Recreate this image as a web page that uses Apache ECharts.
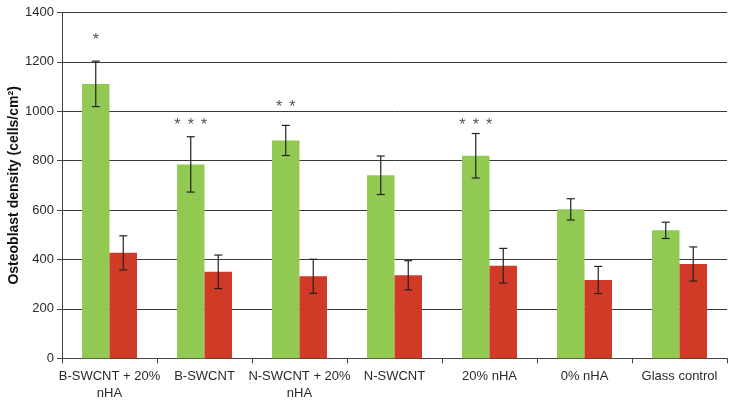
<!DOCTYPE html>
<html>
<head>
<meta charset="utf-8">
<script src="https://cdn.jsdelivr.net/npm/echarts@6/dist/echarts.min.js"></script>
<style>html,body{margin:0;padding:0;background:#fff;}#c{width:735px;height:406px;}</style>
</head>
<body>
<div id="c"></div>
<script>
var categories = ['B-SWCNT + 20%\nnHA', 'B-SWCNT', 'N-SWCNT + 20%\nnHA', 'N-SWCNT', '20% nHA', '0% nHA', 'Glass control'];
var greenValues = [1111, 785, 882, 741, 820, 603, 518];
var greenErrors = [92, 112, 61, 78, 90, 43, 33];
var redValues = [427, 350, 332, 336, 375, 317, 382];
var redErrors = [69, 68, 69, 59, 70, 55, 69];
var starCounts = [1, 3, 2, 0, 3, 0, 0];
var starLevels = [1301, 960, 1033, 0, 960, 0, 0];
var yTicks = [0, 200, 400, 600, 800, 1000, 1200, 1400];

var BAR_W = 27.5;

function errData(vals, errs) {
  return vals.map(function (v, i) { return [i, v, errs[i]]; });
}

function errRender(offset) {
  return function (params, api) {
    var i = api.value(0), v = api.value(1), e = api.value(2);
    var top = api.coord([i, v + e]);
    var bot = api.coord([i, v - e]);
    var x = top[0] + offset;
    var cap = 4;
    var st = { stroke: '#222', lineWidth: 1.2 };
    return {
      type: 'group',
      children: [
        { type: 'line', shape: { x1: x, y1: top[1], x2: x, y2: bot[1] }, style: st },
        { type: 'line', shape: { x1: x - cap, y1: top[1], x2: x + cap, y2: top[1] }, style: st },
        { type: 'line', shape: { x1: x - cap, y1: bot[1], x2: x + cap, y2: bot[1] }, style: st }
      ]
    };
  };
}

var starData = starCounts.map(function (n, i) { return [i, starLevels[i], n]; }).filter(function (d) { return d[2] > 0; });

var chart = echarts.init(document.getElementById('c'));
chart.setOption({
  animation: false,
  grid: { left: 62, right: 8, top: 12.5, bottom: 47.7, containLabel: false, outerBoundsMode: 'none' },
  xAxis: {
    type: 'category',
    data: categories,
    axisLine: { lineStyle: { color: '#444', width: 1 } },
    axisTick: { show: true, length: 5, alignWithLabel: false, lineStyle: { color: '#444' } },
    axisLabel: { color: '#2a2a2a', fontSize: 13, fontFamily: 'Liberation Sans, Arial, sans-serif', margin: 10, lineHeight: 17, interval: 0 }
  },
  yAxis: {
    type: 'value',
    min: 0, max: 1400, interval: 200,
    name: 'Osteoblast density (cells/cm²)',
    nameLocation: 'middle',
    nameGap: 41,
    nameRotate: 90,
    nameMoveOverlap: false,
    nameTextStyle: { color: '#111', fontSize: 14, fontWeight: 'bold', fontFamily: 'Liberation Sans, Arial, sans-serif' },
    axisLine: { show: true, lineStyle: { color: '#444', width: 1 } },
    axisTick: { show: true, length: 5, lineStyle: { color: '#444' } },
    axisLabel: { color: '#2a2a2a', fontSize: 13, fontFamily: 'Liberation Sans, Arial, sans-serif', margin: 8, formatter: function (v) { return String(v); } },
    splitLine: { lineStyle: { color: '#3a3a3a', width: 1 } }
  },
  series: [
    { type: 'bar', data: greenValues, barWidth: BAR_W, barGap: '0%', itemStyle: { color: '#92C953' } },
    { type: 'bar', data: redValues, barWidth: BAR_W, barGap: '0%', itemStyle: { color: '#D03A27' } },
    { type: 'custom', data: errData(greenValues, greenErrors), renderItem: errRender(-BAR_W / 2), z: 10 },
    { type: 'custom', data: errData(redValues, redErrors), renderItem: errRender(BAR_W / 2), z: 10 },
    {
      type: 'custom', data: starData, z: 10,
      renderItem: function (params, api) {
        var i = api.value(0), lv = api.value(1), n = api.value(2);
        var p = api.coord([i, lv]);
        var cx = p[0] - BAR_W / 2;
        var kids = [];
        var sp = 13.3;
        for (var k = 0; k < n; k++) {
          kids.push({
            type: 'text',
            style: {
              text: '*', x: cx + (k - (n - 1) / 2) * sp, y: p[1] + 4,
              fill: '#555', fontSize: 16, fontFamily: 'Liberation Sans, Arial, sans-serif',
              align: 'center', verticalAlign: 'middle'
            }
          });
        }
        return { type: 'group', children: kids };
      }
    }
  ]
});
</script>
</body>
</html>
